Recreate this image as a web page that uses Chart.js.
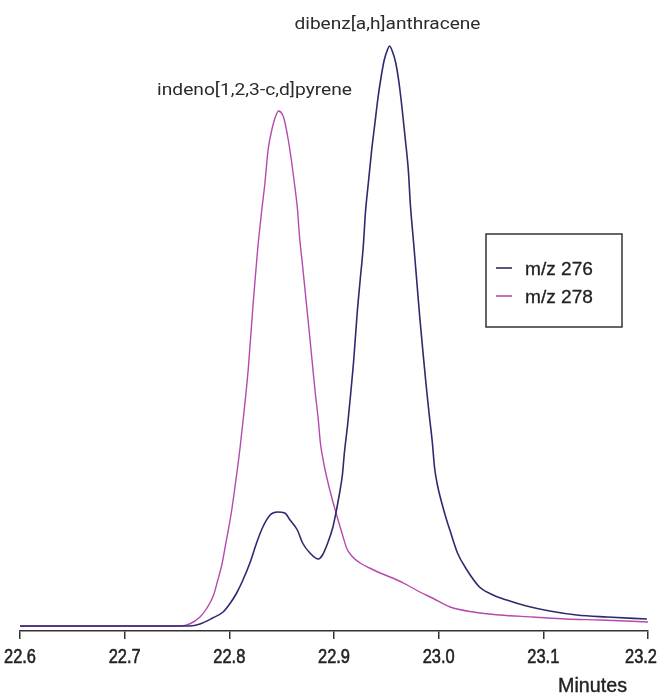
<!DOCTYPE html>
<html>
<head>
<meta charset="utf-8">
<script src="https://cdn.jsdelivr.net/npm/chart.js@4.4.1/dist/chart.umd.min.js"></script>
<style>
  html, body { margin: 0; padding: 0; background: #ffffff; }
  #wrap { width: 660px; height: 693px; position: relative; }
</style>
</head>
<body>
<div id="wrap"><canvas id="c"></canvas></div>
<script>
// ---- data (retention time in minutes, signal in arbitrary units) ----
const seriesNames = ['m/z 276', 'm/z 278'];
const compoundNames = ['dibenz[a,h]anthracene', 'indeno[1,2,3-c,d]pyrene'];
const xTickValues = [22.6, 22.7, 22.8, 22.9, 23.0, 23.1, 23.2];
const xAxisTitle = 'Minutes';

const mz276Time = [22.600, 22.762, 22.772, 22.784, 22.794, 22.801, 22.807, 22.813, 22.820, 22.826,
  22.832, 22.839, 22.846, 22.853, 22.858, 22.865, 22.870, 22.877, 22.885, 22.889,
  22.894, 22.899, 22.902, 22.905, 22.908, 22.910, 22.913, 22.916, 22.919, 22.922,
  22.925, 22.928, 22.930, 22.933, 22.936, 22.939, 22.942, 22.945, 22.948, 22.951,
  22.953, 22.956, 22.959, 22.962, 22.965, 22.968, 22.971, 22.973, 22.976, 22.979,
  22.982, 22.985, 22.988, 22.991, 22.994, 22.996, 22.999, 23.003, 23.007, 23.011,
  23.018, 23.027, 23.039, 23.052, 23.065, 23.084, 23.106, 23.132, 23.161, 23.199];
const mz276Signal = [0, 0, 2, 8, 14, 23, 33, 46, 64, 83,
  99, 111, 114, 113, 106, 96, 83, 73, 67, 71,
  83, 99, 114, 131, 151, 174, 201, 233, 268, 311,
  346, 380, 413, 445, 476, 502, 528, 549, 566, 576,
  580, 574, 563, 544, 518, 488, 456, 421, 384, 346,
  308, 274, 241, 211, 183, 159, 140, 123, 108, 95,
  73, 56, 39, 31, 26, 20, 15, 11, 9, 7];

const mz278Time = [22.600, 22.753, 22.762, 22.772, 22.778, 22.785, 22.789, 22.793, 22.796, 22.799,
  22.802, 22.805, 22.810, 22.814, 22.818, 22.823, 22.827, 22.831, 22.834, 22.837,
  22.841, 22.844, 22.847, 22.851, 22.853, 22.856, 22.859, 22.862, 22.865, 22.867,
  22.870, 22.873, 22.876, 22.879, 22.882, 22.885, 22.887, 22.890, 22.893, 22.896,
  22.899, 22.902, 22.905, 22.909, 22.912, 22.917, 22.925, 22.934, 22.944, 22.956,
  22.970, 22.982, 22.994, 23.011, 23.033, 23.058, 23.090, 23.122, 23.154, 23.200];
const mz278Signal = [0, 0, 2, 9, 17, 31, 46, 62, 79, 96,
  114, 136, 176, 214, 256, 326, 376, 416, 443, 476,
  498, 509, 515, 511, 504, 488, 468, 444, 418, 390,
  360, 329, 298, 266, 234, 206, 183, 164, 149, 136,
  124, 113, 102, 88, 78, 70, 63, 58, 53, 48,
  41, 34, 28, 19, 14, 11, 9, 7, 6, 4];

// ---- build datasets from arrays ----
const toPoints = (t, s) => t.map((x, i) => ({ x: x, y: s[i] }));
const colors = ['#2e2a6f', '#b54aad'];

const SANS = "'Liberation Sans', Arial, sans-serif";
const LABELFONT = "Roboto, 'Noto Sans', sans-serif";

// draw text stretched/condensed horizontally to a target width
function fitText(ctx, text, x, y, targetW, align, strokeW) {
  const w = ctx.measureText(text).width;
  const k = targetW / w;
  ctx.save();
  let left = x;
  if (align === 'center') left = x - targetW / 2;
  else if (align === 'right') left = x - targetW;
  ctx.translate(left, y);
  ctx.scale(k, 1);
  ctx.textAlign = 'left';
  ctx.fillText(text, 0, 0);
  if (strokeW) {
    ctx.lineWidth = strokeW;
    ctx.strokeStyle = ctx.fillStyle;
    ctx.strokeText(text, 0, 0);
  }
  ctx.restore();
}

const overlayPlugin = {
  id: 'overlay',
  afterDatasetsDraw(chart) {
    const ctx = chart.ctx;
    const xs = chart.scales.x, ys = chart.scales.y;
    const area = chart.chartArea;
    ctx.save();
    ctx.textBaseline = 'alphabetic';

    // compound labels above each peak
    const peakOf = (ds) => ds.data.reduce((a, b) => (b.y > a.y ? b : a));
    const pk276 = peakOf(chart.data.datasets[0]);
    const pk278 = peakOf(chart.data.datasets[1]);
    ctx.fillStyle = '#2b2b2b';
    ctx.font = '17px ' + LABELFONT;
    fitText(ctx, compoundNames[0], xs.getPixelForValue(pk276.x) - 2, ys.getPixelForValue(pk276.y) - 17, 186, 'center');
    fitText(ctx, compoundNames[1], xs.getPixelForValue(pk278.x) - 24, ys.getPixelForValue(pk278.y) - 16, 195, 'center');

    // x tick labels
    ctx.fillStyle = '#222222';
    ctx.font = '21px ' + SANS;
    const W = chart.width;
    xTickValues.forEach((v) => {
      let cx = xs.getPixelForValue(v);
      const half = 16;
      if (cx + half > W - 3) cx = W - 3 - half;
      if (cx - half < 4) cx = 4 + half;
      fitText(ctx, v.toFixed(1), cx, area.bottom + 32, 32, 'center', 0.6);
    });

    // axis title
    ctx.font = '21px ' + SANS;
    fitText(ctx, xAxisTitle, area.right - 21, area.bottom + 61, 69, 'right', 0.4);

    // legend box
    const bx = area.right - 162, by = 234, bw = 136, bh = 93;
    ctx.lineWidth = 1.5;
    ctx.strokeStyle = '#333333';
    ctx.strokeRect(bx, by, bw, bh);
    ctx.font = '19px ' + SANS;
    seriesNames.forEach((name, i) => {
      const y = by + 34 + i * 28;
      ctx.strokeStyle = colors[i];
      ctx.lineWidth = 1.6;
      ctx.beginPath();
      ctx.moveTo(bx + 10, y);
      ctx.lineTo(bx + 26, y);
      ctx.stroke();
      ctx.fillStyle = '#222222';
      fitText(ctx, name, bx + 39, y + 7, 68, 'left', 0.3);
    });
    ctx.restore();
  }
};

new Chart(document.getElementById('c'), {
  type: 'line',
  data: {
    datasets: [
      { label: seriesNames[0], data: toPoints(mz276Time, mz276Signal), borderColor: colors[0],
        borderWidth: 1.6, pointRadius: 0, fill: false, cubicInterpolationMode: 'monotone' },
      { label: seriesNames[1], data: toPoints(mz278Time, mz278Signal), borderColor: colors[1],
        borderWidth: 1.4, pointRadius: 0, fill: false, cubicInterpolationMode: 'monotone' }
    ]
  },
  options: {
    responsive: true,
    maintainAspectRatio: false,
    animation: false,
    layout: { padding: { left: 20, right: 12, top: 10, bottom: 54 } },
    plugins: { legend: { display: false }, tooltip: { enabled: false } },
    scales: {
      x: {
        type: 'linear',
        min: xTickValues[0],
        max: xTickValues[xTickValues.length - 1],
        afterBuildTicks(scale) { scale.ticks = xTickValues.map(v => ({ value: v })); },
        afterFit(scale) { scale.paddingLeft = 0; scale.paddingRight = 0; },
        grid: { display: true, drawOnChartArea: false, drawTicks: true, tickLength: 8,
                color: '#333333', lineWidth: 1.5 },
        border: { display: true, color: '#333333', width: 1.5 },
        ticks: { display: false }
      },
      y: {
        display: false,
        min: -5,
        max: 616
      }
    }
  },
  plugins: [overlayPlugin]
});
</script>
</body>
</html>
